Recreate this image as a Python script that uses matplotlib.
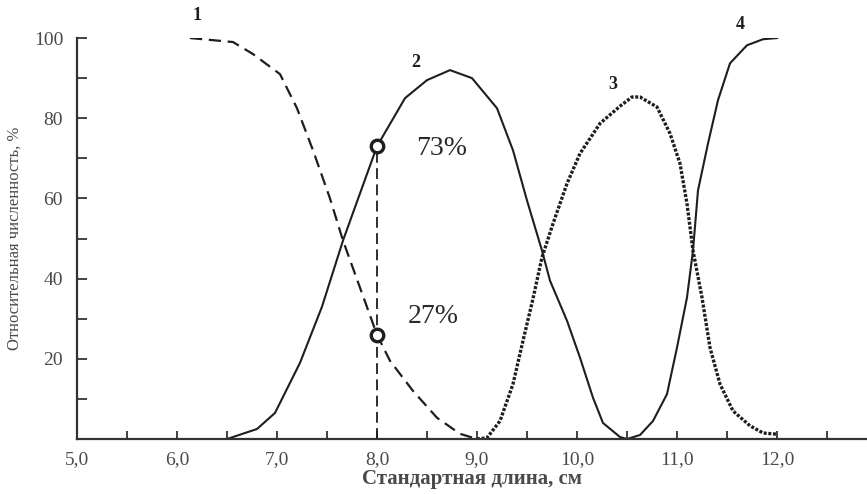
import matplotlib
matplotlib.use('Agg')
import matplotlib.pyplot as plt
from matplotlib.ticker import MultipleLocator, FixedLocator

# curve 1 (dashed)
x1 = [6.13, 6.56, 6.76, 7.03, 7.2, 7.36, 7.53, 7.66, 8.0, 8.13, 8.36, 8.6, 8.83, 9.0]
y1 = [100, 99, 96, 91, 82.5, 72, 60, 49.5, 26, 19.5, 12, 5.3, 1.3, 0]

# curve 2 (solid)
x2 = [6.5, 6.8, 6.98, 7.23, 7.45, 7.66, 8.0, 8.28, 8.5, 8.73, 8.95, 9.2, 9.36,
      9.5, 9.65, 9.73, 9.9, 10.03, 10.16, 10.26, 10.43, 10.5]
y2 = [0, 2.5, 6.5, 19, 33, 49.5, 73, 85, 89.5, 92, 90, 82.5, 72,
      59.5, 47, 39.5, 29.5, 20.3, 10.3, 4, 0.5, 0]

# curve 3 (dotted)
x3 = [9.0, 9.1, 9.23, 9.36, 9.46, 9.56, 9.65, 9.76, 9.9, 10.03, 10.23, 10.43, 10.55,
      10.63, 10.8, 10.93, 11.03, 11.1, 11.16, 11.25, 11.33, 11.43, 11.56, 11.73, 11.86, 12.0]
y3 = [0, 0.3, 4.5, 13.7, 24.5, 35, 45.3, 53.7, 63.7, 71.2, 78.7, 83, 85.3,
      85.3, 82.8, 76.2, 68.7, 58.7, 47, 35.3, 22.8, 13.7, 7, 3.3, 1.5, 1.2]

# curve 4 (solid)
x4 = [10.5, 10.63, 10.76, 10.9, 11.0, 11.1, 11.16, 11.21, 11.31, 11.41, 11.53, 11.7, 11.86, 12.0]
y4 = [0, 1, 4.5, 11.2, 22.8, 35.3, 47, 62, 73.7, 84.5, 93.7, 98.2, 99.7, 100]

# marked points at 8.0 cm
mark_x = 8.0
mark_y = [73, 26]
mark_text = ['73%', '27%']
mark_text_xy = [(8.65, 72.5), (8.56, 30.5)]

curve_labels = ['1', '2', '3', '4']
curve_label_xy = [(6.2, 105.5), (8.39, 94), (10.36, 88.3), (11.63, 103.3)]

xticks_major = [5, 6, 7, 8, 9, 10, 11, 12]
xtick_labels = ['5,0', '6,0', '7,0', '8,0', '9,0', '10,0', '11,0', '12,0']

SERIF = 'Liberation Serif'
INK = '#1e1e1e'
GREY = '#4a4a4a'

fig = plt.figure(figsize=(8.67, 4.94), dpi=100)
ax = fig.add_axes([0.0888, 0.1113, 0.9112, 0.8117])

ax.plot(x1, y1, color=INK, lw=1.6, linestyle=(0, (5.5, 3)))
ax.plot(x2, y2, color=INK, lw=1.5)
ax.plot(x3, y3, color=INK, lw=2.4, linestyle=(0, (0.9, 0.5)))
ax.plot(x4, y4, color=INK, lw=1.5)

# vertical dashed guide and circles
ax.plot([mark_x, mark_x], [0, mark_y[0]], color=INK, lw=1.3, linestyle=(0, (6, 3)))
ax.plot([mark_x] * len(mark_y), mark_y, linestyle='none', marker='o', ms=9,
        mfc='white', mec=INK, mew=2.4, zorder=5)

for t, (tx, ty) in zip(mark_text, mark_text_xy):
    ax.text(tx, ty, t, fontsize=20, family=SERIF, color='#2a2a2a', ha='center', va='center')

for t, (tx, ty) in zip(curve_labels, curve_label_xy):
    ax.text(tx, ty, t, fontsize=13, family=SERIF, fontweight='bold', color=INK,
            ha='center', va='center', clip_on=False)

ax.set_xlim(5.0, 12.9)
ax.set_ylim(0, 100)

ax.xaxis.set_major_locator(FixedLocator(xticks_major))
ax.set_xticklabels(xtick_labels)
ax.xaxis.set_minor_locator(MultipleLocator(0.5))
ax.yaxis.set_major_locator(FixedLocator([20, 40, 60, 80, 100]))
ax.yaxis.set_minor_locator(MultipleLocator(10))

for s in ['top', 'right']:
    ax.spines[s].set_visible(False)
for s in ['left', 'bottom']:
    ax.spines[s].set_color('#333333')
    ax.spines[s].set_linewidth(1.6)

ax.tick_params(which='both', direction='in', color='#333333', width=1.3)
ax.tick_params(axis='x', which='both', length=6)
ax.tick_params(axis='y', which='both', length=7)
ax.tick_params(axis='x', which='major', pad=9)
ax.tick_params(axis='y', which='major', pad=10)
for lab in ax.get_xticklabels() + ax.get_yticklabels():
    lab.set_family(SERIF)
    lab.set_fontsize(14)
    lab.set_color(GREY)

ax.set_ylabel('Относительная численность, %', family=SERIF, fontsize=12,
              color=GREY, labelpad=8)
ax.set_xlabel('Стандартная длина, см', family=SERIF, fontsize=15,
              fontweight='bold', color=GREY, labelpad=0)

fig.savefig('out.png', dpi=100)
